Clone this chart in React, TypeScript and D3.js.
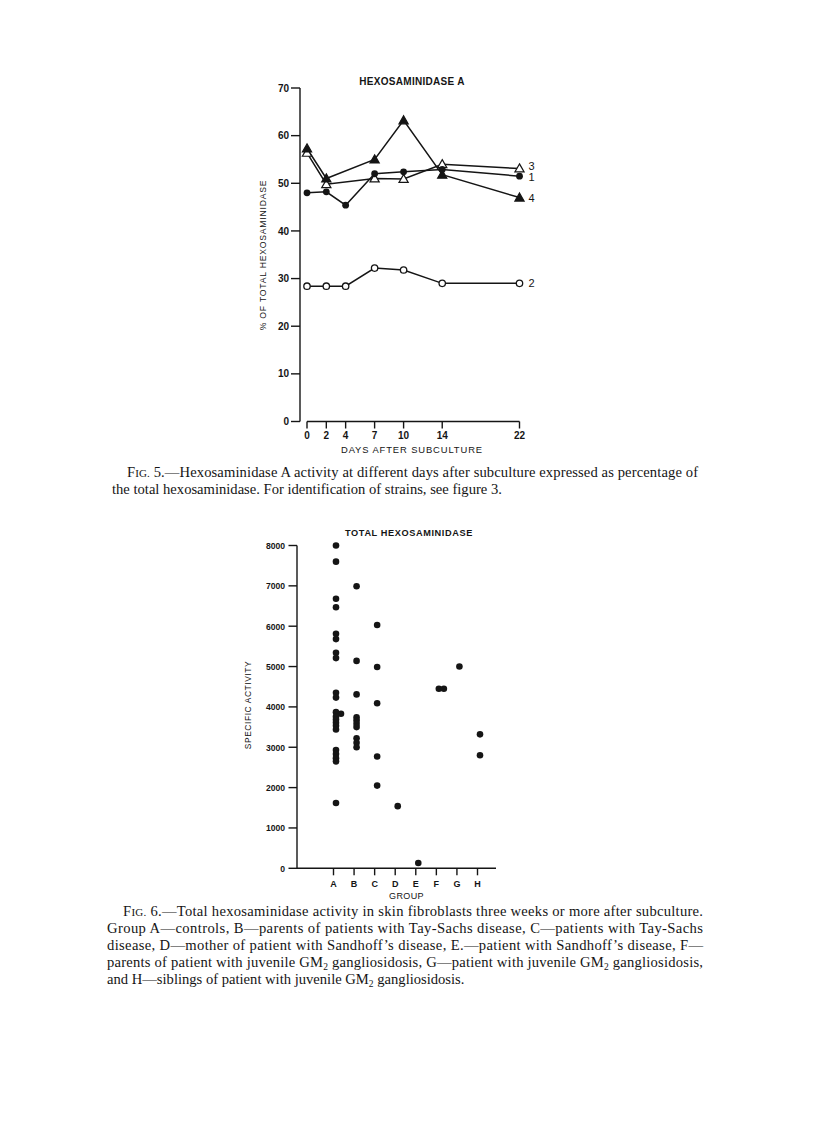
import React from "react";
import * as d3 from "d3";

// ---------- Fig. 5 data ----------
const fig5Title = "HEXOSAMINIDASE A";
const fig5XLabel = "DAYS AFTER SUBCULTURE";
const fig5YLabel = "% OF TOTAL HEXOSAMINIDASE";
const dayTicks = [0, 2, 4, 7, 10, 14, 22];
const pctTicks = [0, 10, 20, 30, 40, 50, 60, 70];

const strain1Days = [0, 2, 4, 7, 10, 14, 22];
const strain1Values = [48.0, 48.2, 45.4, 52.0, 52.4, 52.9, 51.5];
const strain2Days = [0, 2, 4, 7, 10, 14, 22];
const strain2Values = [28.4, 28.4, 28.4, 32.2, 31.8, 29.0, 29.0];
const strain3Days = [0, 2, 7, 10, 14, 22];
const strain3Values = [56.4, 49.8, 51.0, 50.9, 54.0, 53.1];
const strain4Days = [0, 2, 7, 10, 14, 22];
const strain4Values = [57.3, 51.0, 55.0, 63.2, 51.8, 47.0];

// ---------- Fig. 6 data ----------
const fig6Title = "TOTAL HEXOSAMINIDASE";
const fig6XLabel = "GROUP";
const fig6YLabel = "SPECIFIC ACTIVITY";
const groups = ["A", "B", "C", "D", "E", "F", "G", "H"];
const activityTicks = [0, 1000, 2000, 3000, 4000, 5000, 6000, 7000, 8000];
const groupA = [8000, 7600, 6680, 6470, 5810, 5680, 5340, 5210, 4350, 4230, 3870, 3830, 3760, 3690, 3610, 3530, 3440, 2930, 2830, 2730, 2650, 1620];
const groupB = [6990, 5140, 4310, 3740, 3660, 3580, 3500, 3220, 3110, 3000];
const groupC = [6030, 4990, 4090, 2770, 2050];
const groupD = [1540];
const groupE = [130];
const groupF = [4450, 4450];
const groupG = [5000];
const groupH = [3320, 2800];
const groupValues = [groupA, groupB, groupC, groupD, groupE, groupF, groupG, groupH];

// ---------- captions ----------
const cap5Lines = [
  "5.\u2014Hexosaminidase A activity at different days after subculture expressed as percentage of",
  "the total hexosaminidase. For identification of strains, see figure 3.",
];
const cap6Lines = [
  "6.\u2014Total hexosaminidase activity in skin fibroblasts three weeks or more after subculture.",
  "Group A\u2014controls, B\u2014parents of patients with Tay-Sachs disease, C\u2014patients with Tay-Sachs",
  "disease, D\u2014mother of patient with Sandhoff\u2019s disease, E.\u2014patient with Sandhoff\u2019s disease, F\u2014",
  "parents of patient with juvenile GM|2| gangliosidosis, G\u2014patient with juvenile GM|2| gangliosidosis,",
  "and H\u2014siblings of patient with juvenile GM|2| gangliosidosis.",
];

const SANS = "'Liberation Sans', Arial, Helvetica, sans-serif";
const SERIF = "'Liberation Serif', 'Times New Roman', serif";
const INK = "#151515";
const CAP_SIZE = 14.6;

function renderRich(line: string, keyBase: string) {
  const parts = line.split("|");
  return parts.map((p, i) =>
    i % 2 === 1 ? (
      <tspan key={keyBase + i} fontSize="9.5" dy="3">{p}</tspan>
    ) : (
      <tspan key={keyBase + i} dy={i > 0 ? -3 : 0}>{p}</tspan>
    )
  );
}

function Triangle({ x, y, filled }: { x: number; y: number; filled: boolean }) {
  const s = 4.6;
  const path = `M${x},${y - s} L${x + s},${y + s * 0.75} L${x - s},${y + s * 0.75} Z`;
  return <path d={path} fill={filled ? INK : "#fff"} stroke={INK} strokeWidth={1.2} />;
}

export default function App() {
  // ---- Fig 5 scales ----
  const xDay = d3.scaleLinear().domain([0, 22]).range([307, 519.5]);
  const yPct = d3.scaleLinear().domain([0, 70]).range([421.5, 88]);
  const line = d3
    .line<[number, number]>()
    .x((d) => xDay(d[0]))
    .y((d) => yPct(d[1]));
  const zip = (a: number[], b: number[]) => a.map((d, i) => [d, b[i]] as [number, number]);
  const s1 = zip(strain1Days, strain1Values);
  const s2 = zip(strain2Days, strain2Values);
  const s3 = zip(strain3Days, strain3Values);
  const s4 = zip(strain4Days, strain4Values);
  const yAxisX5 = 300;
  const xAxisY5 = yPct(0);

  // ---- Fig 6 scales ----
  const xGroup = d3.scalePoint<string>().domain(groups).range([333.5, 477.5]);
  const yAct = d3.scaleLinear().domain([0, 8000]).range([868.3, 545.5]);
  const yAxisX6 = 297;
  const xAxisY6 = yAct(0);
  const dots: { x: number; y: number; key: string }[] = [];
  groups.forEach((g, gi) => {
    const vals = groupValues[gi];
    vals.forEach((v, vi) => {
      let dx = 2.5;
      for (let k = 0; k < vi; k++) {
        if (Math.abs(vals[k] - v) < 45) dx += 5;
      }
      dots.push({ x: (xGroup(g) as number) + dx, y: yAct(v), key: g + vi });
    });
  });

  const endLabels: [string, number][] = [
    ["3", strain3Values[strain3Values.length - 1]],
    ["1", strain1Values[strain1Values.length - 1]],
    ["4", strain4Values[strain4Values.length - 1]],
    ["2", strain2Values[strain2Values.length - 1]],
  ];

  return (
    <svg
      width={816}
      height={1122}
      style={{ position: "absolute", left: 0, top: 0, background: "#fff" }}
      xmlns="http://www.w3.org/2000/svg"
    >
      <rect x={0} y={0} width={816} height={1122} fill="#fff" />

      {/* ================= FIG 5 ================= */}
      <g fontFamily={SANS} fill={INK}>
        <text x={412} y={84.5} textAnchor="middle" fontSize={10} fontWeight="bold" letterSpacing={0.3}>
          {fig5Title}
        </text>
        <line x1={yAxisX5} x2={yAxisX5} y1={yPct(70)} y2={yPct(0)} stroke={INK} strokeWidth={1.4} />
        {pctTicks.map((t) => (
          <g key={"pt" + t}>
            <line x1={yAxisX5 - 9} x2={yAxisX5} y1={yPct(t)} y2={yPct(t)} stroke={INK} strokeWidth={1.4} />
            <text x={yAxisX5 - 11} y={yPct(t) + 3.6} textAnchor="end" fontSize={10} fontWeight="bold">
              {t}
            </text>
          </g>
        ))}
        <text
          transform={`translate(266, 255) rotate(-90)`}
          textAnchor="middle"
          fontSize={8.6}
          letterSpacing={0.8}
        >
          {fig5YLabel}
        </text>
        <line x1={xDay(0)} x2={xDay(22)} y1={xAxisY5} y2={xAxisY5} stroke={INK} strokeWidth={1.4} />
        {dayTicks.map((t) => (
          <g key={"dt" + t}>
            <line x1={xDay(t)} x2={xDay(t)} y1={xAxisY5} y2={xAxisY5 + 7} stroke={INK} strokeWidth={1.4} />
            <text x={xDay(t)} y={xAxisY5 + 17.5} textAnchor="middle" fontSize={10} fontWeight="bold">
              {t}
            </text>
          </g>
        ))}
        <text x={412} y={453} textAnchor="middle" fontSize={9.4} letterSpacing={0.9}>
          {fig5XLabel}
        </text>

        {[s1, s2, s3, s4].map((s, i) => (
          <path key={"ln" + i} d={line(s) || ""} fill="none" stroke={INK} strokeWidth={1.5} />
        ))}
        {s2.map((d, i) => (
          <circle key={"m2" + i} cx={xDay(d[0])} cy={yPct(d[1])} r={3.2} fill="#fff" stroke={INK} strokeWidth={1.3} />
        ))}
        {s3.map((d, i) => (
          <Triangle key={"m3" + i} x={xDay(d[0])} y={yPct(d[1])} filled={false} />
        ))}
        {s4.map((d, i) => (
          <Triangle key={"m4" + i} x={xDay(d[0])} y={yPct(d[1])} filled={true} />
        ))}
        {s1.map((d, i) => (
          <circle key={"m1" + i} cx={xDay(d[0])} cy={yPct(d[1])} r={3.4} fill={INK} />
        ))}
        {endLabels.map(([lab, v]) => (
          <text
            key={"el" + lab}
            x={xDay(22) + 9}
            y={yPct(v) + (lab === "3" ? 1.5 : lab === "1" ? 4.5 : 4)}
            fontSize={11}
          >
            {lab}
          </text>
        ))}
      </g>

      {/* caption 5 */}
      <g fontFamily={SERIF} fill={INK} fontSize={CAP_SIZE}>
        <text x={127} y={477} textLength={571} lengthAdjust="spacing">
          <tspan>F</tspan>
          <tspan fontSize={11}>IG.</tspan>
          <tspan> {cap5Lines[0]}</tspan>
        </text>
        <text x={112} y={494}>{cap5Lines[1]}</text>
      </g>

      {/* ================= FIG 6 ================= */}
      <g fontFamily={SANS} fill={INK}>
        <text x={409} y={536} textAnchor="middle" fontSize={9.2} fontWeight="bold" letterSpacing={0.6}>
          {fig6Title}
        </text>
        <line x1={yAxisX6} x2={yAxisX6} y1={yAct(8000)} y2={yAct(0)} stroke={INK} strokeWidth={1.4} />
        {activityTicks.map((t) => (
          <g key={"at" + t}>
            <line x1={yAxisX6 - 8.5} x2={yAxisX6} y1={yAct(t)} y2={yAct(t)} stroke={INK} strokeWidth={1.4} />
            <text x={yAxisX6 - 12} y={yAct(t) + 3.3} textAnchor="end" fontSize={8.6} fontWeight="bold">
              {t}
            </text>
          </g>
        ))}
        <text
          transform={`translate(251, 705) rotate(-90)`}
          textAnchor="middle"
          fontSize={8.4}
          letterSpacing={0.6}
        >
          {fig6YLabel}
        </text>
        <line x1={yAxisX6} x2={496} y1={xAxisY6} y2={xAxisY6} stroke={INK} strokeWidth={1.4} />
        {groups.map((g) => (
          <g key={"gt" + g}>
            <line
              x1={xGroup(g) as number}
              x2={xGroup(g) as number}
              y1={xAxisY6}
              y2={xAxisY6 + 7}
              stroke={INK}
              strokeWidth={1.4}
            />
            <text x={xGroup(g) as number} y={xAxisY6 + 18.5} textAnchor="middle" fontSize={9} fontWeight="bold">
              {g}
            </text>
          </g>
        ))}
        <text x={406.5} y={898.5} textAnchor="middle" fontSize={9} letterSpacing={0.4}>
          {fig6XLabel}
        </text>
        {dots.map((d) => (
          <circle key={d.key} cx={d.x} cy={d.y} r={3.3} fill={INK} />
        ))}
      </g>

      {/* caption 6 */}
      <g fontFamily={SERIF} fill={INK} fontSize={CAP_SIZE}>
        <text x={123} y={916} textLength={580} lengthAdjust="spacing">
          <tspan>F</tspan>
          <tspan fontSize={11}>IG.</tspan>
          <tspan> {cap6Lines[0]}</tspan>
        </text>
        {cap6Lines.slice(1).map((ln, i) => {
          const last = i === cap6Lines.length - 2;
          return (
            <text
              key={"c6" + i}
              x={107}
              y={933 + i * 17}
              textLength={last ? undefined : 596}
              lengthAdjust={last ? undefined : "spacing"}
            >
              {renderRich(ln, "c6" + i + "_")}
            </text>
          );
        })}
      </g>
    </svg>
  );
}
